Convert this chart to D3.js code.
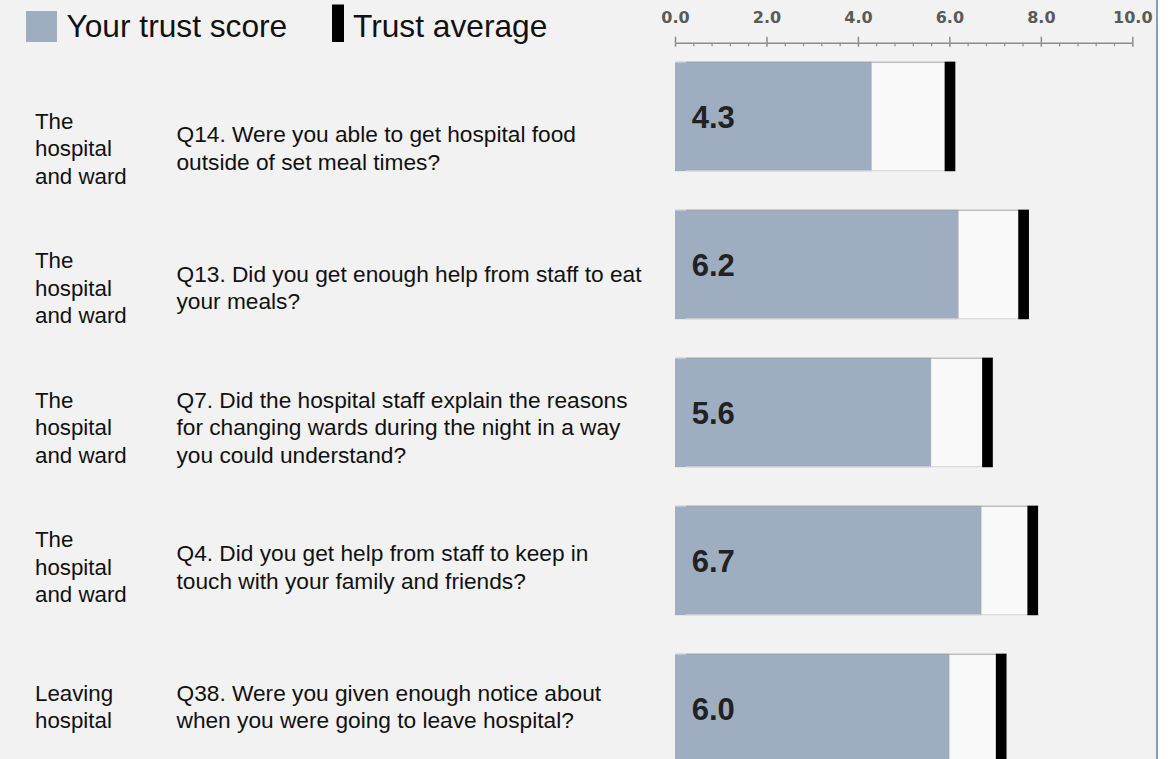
<!DOCTYPE html>
<html>
<head>
<meta charset="utf-8">
<script src="https://cdn.jsdelivr.net/npm/d3@7"></script>
<style>
  html, body { margin: 0; padding: 0; background: #ffffff; }
  svg { display: block; }
</style>
</head>
<body>
<svg id="chart" width="1173" height="759"></svg>
<script>
// ---- data ----
const categories = [
  ["The", "hospital", "and ward"],
  ["The", "hospital", "and ward"],
  ["The", "hospital", "and ward"],
  ["The", "hospital", "and ward"],
  ["Leaving", "hospital"]
];
const questions = [
  ["Q14. Were you able to get hospital food", "outside of set meal times?"],
  ["Q13. Did you get enough help from staff to eat", "your meals?"],
  ["Q7. Did the hospital staff explain the reasons", "for changing wards during the night in a way", "you could understand?"],
  ["Q4. Did you get help from staff to keep in", "touch with your family and friends?"],
  ["Q38. Were you given enough notice about", "when you were going to leave hospital?"]
];
const trustScores = [4.3, 6.2, 5.6, 6.7, 6.0];
const trustAverages = [6.13, 7.74, 6.95, 7.94, 7.25];
const tickValues = [0, 2, 4, 6, 8, 10];
const legendLabels = ["Your trust score", "Trust average"];

// ---- setup ----
const svg = d3.select("#chart");
const W = 1173, H = 759;
const BG = "#f2f2f2", BLUE = "#9fadc1";

svg.append("rect").attr("x", 0).attr("y", 0).attr("width", 1157).attr("height", H).attr("fill", BG);
svg.append("rect").attr("x", 1156).attr("y", 0).attr("width", 2).attr("height", H).attr("fill", "#8d9db7");

const x = d3.scaleLinear().domain([0, 10]).range([675, 1132.3]);
const idx = d3.range(trustScores.length);
const yBar = d3.scaleBand().domain(idx).range([61.7, 61.7 + 148 * 4.74]).paddingInner(0.26).paddingOuter(0);
const yText = d3.scalePoint().domain(idx).range([156, 156 + 4 * 139.6]);

// ---- legend ----
const lg = svg.append("g");
lg.append("rect").attr("x", 26).attr("y", 11).attr("width", 31).attr("height", 31).attr("fill", BLUE);
lg.append("text").attr("x", 66.5).attr("y", 37).text(legendLabels[0])
  .attr("font-family", "'Liberation Sans', Arial, sans-serif").attr("font-size", 31.7).attr("fill", "#111");
lg.append("rect").attr("x", 332).attr("y", 4.5).attr("width", 12).attr("height", 37.5).attr("fill", "#000");
lg.append("text").attr("x", 353).attr("y", 37).text(legendLabels[1])
  .attr("font-family", "'Liberation Sans', Arial, sans-serif").attr("font-size", 31.7).attr("fill", "#111");

// ---- axis ----
const axisY = 42.7;
const AX = "#8c8c8c";
const gTop = svg.append("g").attr("transform", `translate(0,${axisY})`)
  .call(d3.axisTop(x).tickValues(tickValues).tickSizeInner(6).tickSizeOuter(0).tickPadding(13.4).tickFormat(d3.format(".1f")));
gTop.select(".domain").attr("stroke", AX).attr("stroke-width", 1.5);
gTop.selectAll(".tick line").attr("stroke", AX).attr("stroke-width", 1.5);
gTop.selectAll(".tick text").attr("font-family", "'DejaVu Sans', Verdana, sans-serif")
  .attr("font-weight", "bold").attr("font-size", 16).attr("fill", "#5a5a5a");

const gBot = svg.append("g").attr("transform", `translate(0,${axisY})`)
  .call(d3.axisBottom(x).tickValues(tickValues).tickSizeInner(4).tickSizeOuter(0).tickFormat(""));
gBot.select(".domain").remove();
gBot.selectAll(".tick line").attr("stroke", AX).attr("stroke-width", 1.5);

const minorVals = d3.range(0, 10.001, 0.4).map(v => +v.toFixed(1)).filter(v => !tickValues.includes(v));
const gMin = svg.append("g").attr("transform", `translate(0,${axisY})`)
  .call(d3.axisBottom(x).tickValues(minorVals).tickSizeInner(3.5).tickSizeOuter(0).tickFormat(""));
gMin.select(".domain").remove();
gMin.selectAll(".tick line").attr("stroke", AX).attr("stroke-width", 1.2);

// ---- bars ----
const bw = yBar.bandwidth();
const MW = 10.7;
const rows = svg.append("g").selectAll("g").data(idx).join("g");

rows.append("rect")
  .attr("x", x(0)).attr("y", i => yBar(i))
  .attr("width", i => x(trustAverages[i]) - x(0)).attr("height", bw)
  .attr("fill", "#f9f9f9");
rows.append("rect")
  .attr("x", x(0)).attr("y", i => yBar(i))
  .attr("width", i => x(trustScores[i]) - x(0)).attr("height", bw)
  .attr("fill", BLUE);
rows.append("line")
  .attr("x1", x(0)).attr("x2", x(0) + 11).attr("y1", i => yBar(i) + 0.5).attr("y2", i => yBar(i) + 0.5)
  .attr("stroke", "#d6d6d6").attr("stroke-width", 1);
rows.append("line")
  .attr("x1", x(0) + 11).attr("x2", i => x(trustAverages[i])).attr("y1", i => yBar(i) + 0.5).attr("y2", i => yBar(i) + 0.5)
  .attr("stroke", "#a3a3a3").attr("stroke-width", 1);
rows.append("line")
  .attr("x1", x(0) + 11).attr("x2", i => x(trustAverages[i])).attr("y1", i => yBar(i) + bw - 0.5).attr("y2", i => yBar(i) + bw - 0.5)
  .attr("stroke", "#d2d2d2").attr("stroke-width", 1);
rows.append("rect")
  .attr("x", i => x(trustAverages[i]) - MW).attr("y", i => yBar(i))
  .attr("width", MW).attr("height", bw).attr("fill", "#000");
rows.append("text")
  .attr("x", x(0) + 16.7).attr("y", i => yBar(i) + bw / 2 + 11.8)
  .text(i => d3.format(".1f")(trustScores[i]))
  .attr("font-family", "'Liberation Sans', Arial, sans-serif").attr("font-weight", "bold")
  .attr("font-size", 31).attr("fill", "#222");

// ---- text labels ----
const LH = 27.5;
const FONT = "'Liberation Sans', Arial, sans-serif";
function addLines(g, lines, xPos, center, size) {
  const n = lines.length;
  g.selectAll(null).data(lines).join("text")
    .attr("x", xPos)
    .attr("y", (d, k) => center + (k - (n - 1) / 2) * LH)
    .text(d => d)
    .attr("font-family", FONT).attr("font-size", size).attr("fill", "#111");
}
idx.forEach(i => {
  const g = svg.append("g");
  addLines(g, categories[i], 35, yText(i), 22.3);
  addLines(g, questions[i], 176.5, yText(i), 22.7);
});
</script>
</body>
</html>
